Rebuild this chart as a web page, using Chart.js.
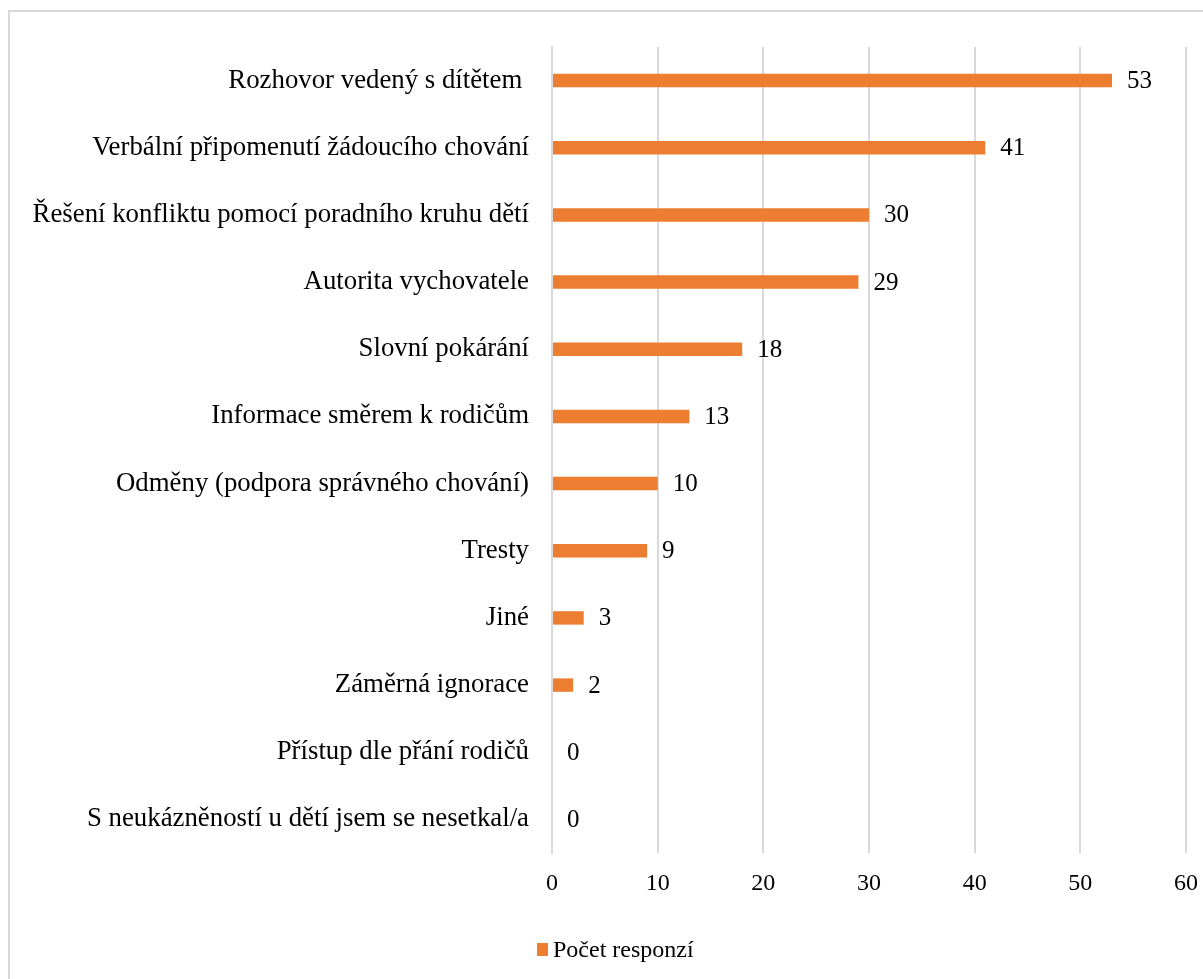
<!DOCTYPE html>
<html lang="cs">
<head>
<meta charset="utf-8">
<title>Počet responzí</title>
<script src="https://cdn.jsdelivr.net/npm/chart.js@4/dist/chart.umd.min.js"></script>
<style>
  html, body { margin: 0; padding: 0; background: #fff; }
  #wrap { position: relative; width: 1203px; height: 979px; overflow: hidden; }
  #frame { position: absolute; left: 8px; top: 10px; width: 1300px; height: 1100px; border: 2px solid #d9d9d9; box-sizing: border-box; }
  canvas { position: absolute; left: 0; top: 0; }
</style>
</head>
<body>
<div id="wrap">
  <div id="frame"></div>
  <canvas id="chart" width="1203" height="979"></canvas>
</div>
<script>
const categories = [
  'Rozhovor vedený s dítětem ',
  'Verbální připomenutí žádoucího chování',
  'Řešení konfliktu pomocí poradního kruhu dětí',
  'Autorita vychovatele',
  'Slovní pokárání',
  'Informace směrem k rodičům',
  'Odměny (podpora správného chování)',
  'Tresty',
  'Jiné',
  'Záměrná ignorace',
  'Přístup dle přání rodičů',
  'S neukázněností u dětí jsem se nesetkal/a'
];
const responses = [53, 41, 30, 29, 18, 13, 10, 9, 3, 2, 0, 0];
const xTicks = [0, 10, 20, 30, 40, 50, 60];
const seriesName = 'Počet responzí';
const barColor = '#ed7d31';

const serif = '"Liberation Serif", "Times New Roman", serif';

// value printed to the right of each bar
const valueLabels = {
  id: 'valueLabels',
  afterDatasetsDraw(chart) {
    const { ctx } = chart;
    const meta = chart.getDatasetMeta(0);
    ctx.save();
    ctx.font = '25px ' + serif;
    ctx.fillStyle = '#000';
    ctx.textAlign = 'left';
    ctx.textBaseline = 'middle';
    meta.data.forEach((bar, i) => {
      ctx.fillText(String(responses[i]), bar.x + 15, bar.y + 1);
    });
    ctx.restore();
  }
};

// legend sits below the axis, slightly right of the canvas centre
const bottomLegend = {
  id: 'bottomLegend',
  afterDraw(chart) {
    const { ctx } = chart;
    const x = 537;
    const y = 950;
    ctx.save();
    ctx.fillStyle = chart.data.datasets[0].backgroundColor;
    ctx.fillRect(x, y - 7, 11, 13);
    ctx.font = '24px ' + serif;
    ctx.fillStyle = '#000';
    ctx.textAlign = 'left';
    ctx.textBaseline = 'middle';
    ctx.fillText(chart.data.datasets[0].label, x + 16, y + 1);
    ctx.restore();
  }
};

new Chart(document.getElementById('chart'), {
  type: 'bar',
  data: {
    labels: categories,
    datasets: [{
      label: seriesName,
      data: responses,
      backgroundColor: barColor,
      borderWidth: 0,
      categoryPercentage: 1,
      barPercentage: 0.2
    }]
  },
  options: {
    indexAxis: 'y',
    responsive: false,
    animation: false,
    layout: { padding: { top: 47, right: 17, left: 0, bottom: 52 } },
    plugins: {
      legend: { display: false },
      tooltip: { enabled: false }
    },
    scales: {
      x: {
        min: 0,
        max: 60,
        afterBuildTicks(scale) {
          scale.ticks = xTicks.map((v) => ({ value: v }));
        },
        afterFit(scale) {
          scale.height = 74;
          scale.paddingLeft = 0;
          scale.paddingRight = 0;
        },
        grid: { color: '#d9d9d9', lineWidth: 2, drawTicks: false },
        border: { display: false },
        ticks: { color: '#000', font: { family: serif, size: 24 }, padding: 16, maxRotation: 0 }
      },
      y: {
        afterFit(scale) { scale.width = 552; },
        grid: { display: false, drawTicks: false },
        border: { display: true, color: '#d9d9d9', width: 2 },
        ticks: { color: '#000', font: { family: serif, size: 26.8 }, padding: 23, autoSkip: false }
      }
    }
  },
  plugins: [valueLabels, bottomLegend]
});
</script>
</body>
</html>
